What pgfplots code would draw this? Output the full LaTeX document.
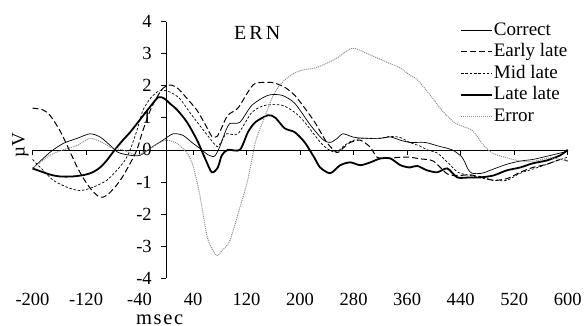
\documentclass[border=0pt]{standalone}
\usepackage{pgfplots}
\pgfplotsset{compat=1.18}
\usepackage{fontspec}
\setmainfont{Liberation Serif}
\newfontfamily\spacedERN[LetterSpace=15]{Liberation Serif}
\newfontfamily\spacedmsec[LetterSpace=8]{Liberation Serif}
\begin{document}
\fontsize{19bp}{22bp}\selectfont
\begin{tikzpicture}
\begin{axis}[
  scale only axis, width=534bp, height=256bp,
  xmin=-200, xmax=600, ymin=-4, ymax=4,
  enlargelimits=false, clip=false,
  axis lines=middle, axis line style={-, black, line width=0.6bp},
  xtick={-200,-120,...,600}, ytick={-4,-3,...,4},
  tick align=outside, major tick length=5bp,
  tick style={black, line width=0.6bp},
  hide obscured x ticks=false, hide obscured y ticks=false,
  /pgf/number format/assume math mode=true,
  ticklabel style={font=\fontsize{18.5bp}{20bp}\selectfont},
  xticklabel style={yshift=-131bp},
  yticklabel style={xshift=-3bp},
  ylabel={µV},
  ylabel style={at={(axis cs:-218,0.14)}, anchor=center, rotate=90, font=\fontsize{19bp}{22bp}\selectfont},
  legend style={draw=none, fill=none, at={(axis cs:439,4.08)}, anchor=north west,
    font=\fontsize{19bp}{21bp}\selectfont, inner sep=0pt, row sep=0pt,
    nodes={inner sep=0.8bp, text height=15bp, text depth=5bp}},
  legend cell align=left,
  legend image code/.code={\draw[#1] (0bp,0bp) -- (31bp,0bp);},
  every axis plot/.append style={smooth, tension=0.45},
]
\addplot[black, line width=0.7bp] coordinates {
(-200,-0.58) (-174,-0.08) (-154,0.2) (-133,0.36) (-114,0.5) (-99,0.4) (-84,0.14) (-72,-0.08) (-54,-0.17) (-39,-0.17) (-24,0.05) (-5,0.3) (10,0.5) (25,0.45) (40,0.2) (50,0.05) (62,-0.15) (72,-0.2) (80,0.1) (88,0.55) (95,0.82) (110,0.86) (128,1.39) (152,1.7) (173,1.7) (192,1.45) (212,0.87) (222,0.6) (235,0.3) (245,0.23) (255,0.35) (264,0.5) (279,0.4) (294,0.36) (320,0.36) (335,0.4) (350,0.3) (364,0.23) (387,0.23) (406,0.12) (427,0) (442,-0.23) (451,-0.6) (457,-0.73) (472,-0.73) (489,-0.6) (509,-0.45) (529,-0.35) (548,-0.3) (569,-0.2) (589,-0.1) (600,-0.05)
};
\addlegendentry{Correct}
\addplot[black, line width=1.0bp, dash pattern=on 6bp off 3bp] coordinates {
(-200,1.3) (-185,1.25) (-174,1.08) (-159,0.6) (-147,0.08) (-133,-0.55) (-122,-0.95) (-111,-1.27) (-99,-1.48) (-89,-1.42) (-77,-1.17) (-66,-0.86) (-54,-0.42) (-44,0) (-35,0.6) (-24,1.23) (-14,1.64) (-5,1.92) (6,2.02) (17,1.92) (31,1.6) (46,1.23) (58,0.8) (68,0.42) (76,0.42) (83,0.7) (92,1.08) (107,1.3) (122,1.8) (133,2.07) (158,2.1) (177,1.95) (192,1.7) (207,1.3) (222,0.86) (240,0.23) (255,-0.08) (264,0.05) (275,0.23) (290,0.3) (305,0.08) (315,-0.23) (330,-0.27) (350,-0.23) (364,-0.23) (379,-0.28) (399,-0.35) (420,-0.75) (436,-0.8) (454,-0.78) (472,-0.85) (489,-0.95) (509,-0.9) (529,-0.7) (548,-0.55) (569,-0.45) (589,-0.3) (600,-0.35)
};
\addlegendentry{Early late}
\addplot[black, line width=0.7bp, dash pattern=on 2.5bp off 1.8bp] coordinates {
(-200,-0.3) (-184,-0.64) (-169,-0.95) (-148,-1.17) (-129,-1.27) (-110,-1.17) (-89,-0.95) (-74,-0.64) (-62,-0.33) (-54,0) (-44,0.6) (-35,1.23) (-24,1.6) (-14,1.8) (-5,1.86) (6,1.8) (20,1.6) (35,1.17) (50,0.76) (65,0.36) (76,0.1) (82,0.25) (90,0.5) (107,0.5) (128,1.17) (148,1.39) (173,1.39) (192,1.17) (207,0.86) (222,0.45) (234,0.15) (245,-0.02) (255,-0.08) (264,0.1) (275,0.25) (290,0.36) (305,0.36) (320,0.36) (335,0.42) (350,0.38) (364,0.23) (379,0.12) (390,0) (405,-0.1) (421,-0.4) (436,-0.7) (454,-0.8) (469,-0.87) (489,-0.95) (509,-0.95) (529,-0.73) (548,-0.6) (569,-0.45) (589,-0.3) (600,-0.23)
};
\addlegendentry{Mid late}
\addplot[black, line width=1.8bp] coordinates {
(-200,-0.58) (-174,-0.77) (-159,-0.83) (-140,-0.83) (-122,-0.78) (-110,-0.7) (-99,-0.55) (-89,-0.33) (-77,0) (-65,0.3) (-54,0.55) (-39,0.95) (-24,1.35) (-12,1.64) (-3,1.6) (5,1.45) (16,1.25) (31,0.86) (46,0.3) (58,-0.27) (68,-0.7) (77,-0.55) (83,-0.17) (92,0) (110,0) (122,0.55) (133,0.86) (152,1.08) (163,1.0) (177,0.67) (192,0.55) (207,0.23) (222,-0.27) (230,-0.55) (245,-0.73) (260,-0.48) (275,-0.39) (290,-0.48) (305,-0.39) (320,-0.27) (335,-0.27) (350,-0.48) (364,-0.55) (375,-0.5) (390,-0.64) (405,-0.7) (420,-0.58) (435,-0.86) (454,-0.86) (469,-0.86) (489,-0.8) (509,-0.64) (529,-0.55) (548,-0.42) (569,-0.33) (589,-0.17) (600,0)
};
\addlegendentry{Late late}
\addplot[black!45, line width=1.0bp, densely dotted] coordinates {
(-200,-0.58) (-174,-0.17) (-154,0) (-133,0.14) (-114,0.36) (-96,0.23) (-80,0.05) (-65,0) (-44,-0.17) (-27,0) (-9,0.23) (1,0.3) (16,0.2) (31,-0.1) (40,-0.5) (50,-1.4) (61,-2.7) (70,-3.15) (76,-3.3) (85,-3.1) (95,-2.83) (110,-1.8) (121,-1.0) (128,-0.3) (134,0.3) (148,1.08) (160,1.7) (173,2.1) (192,2.4) (207,2.5) (222,2.55) (240,2.7) (255,2.86) (278,3.17) (300,3.0) (330,2.73) (350,2.55) (364,2.33) (376,2.17) (397,1.64) (412,1.23) (432,0.83) (457,0.61) (472,0.2) (487,-0.1) (506,-0.23) (529,-0.35) (551,-0.35) (574,-0.25) (600,-0.35)
};
\addlegendentry{Error}
\node[font=\fontsize{20bp}{22bp}\selectfont\spacedERN] at (axis cs:136,3.65) {ERN};
\node[font=\fontsize{20.5bp}{22bp}\selectfont\spacedmsec, inner sep=0pt, anchor=center] at (axis cs:-10,-5.3) {msec};
\coordinate (bl) at (axis cs:-248.6,-5.484);
\coordinate (tr) at (axis cs:624.4,4.672);
\end{axis}
\pgfresetboundingbox
\path (bl) rectangle (tr);
\end{tikzpicture}
\end{document}
